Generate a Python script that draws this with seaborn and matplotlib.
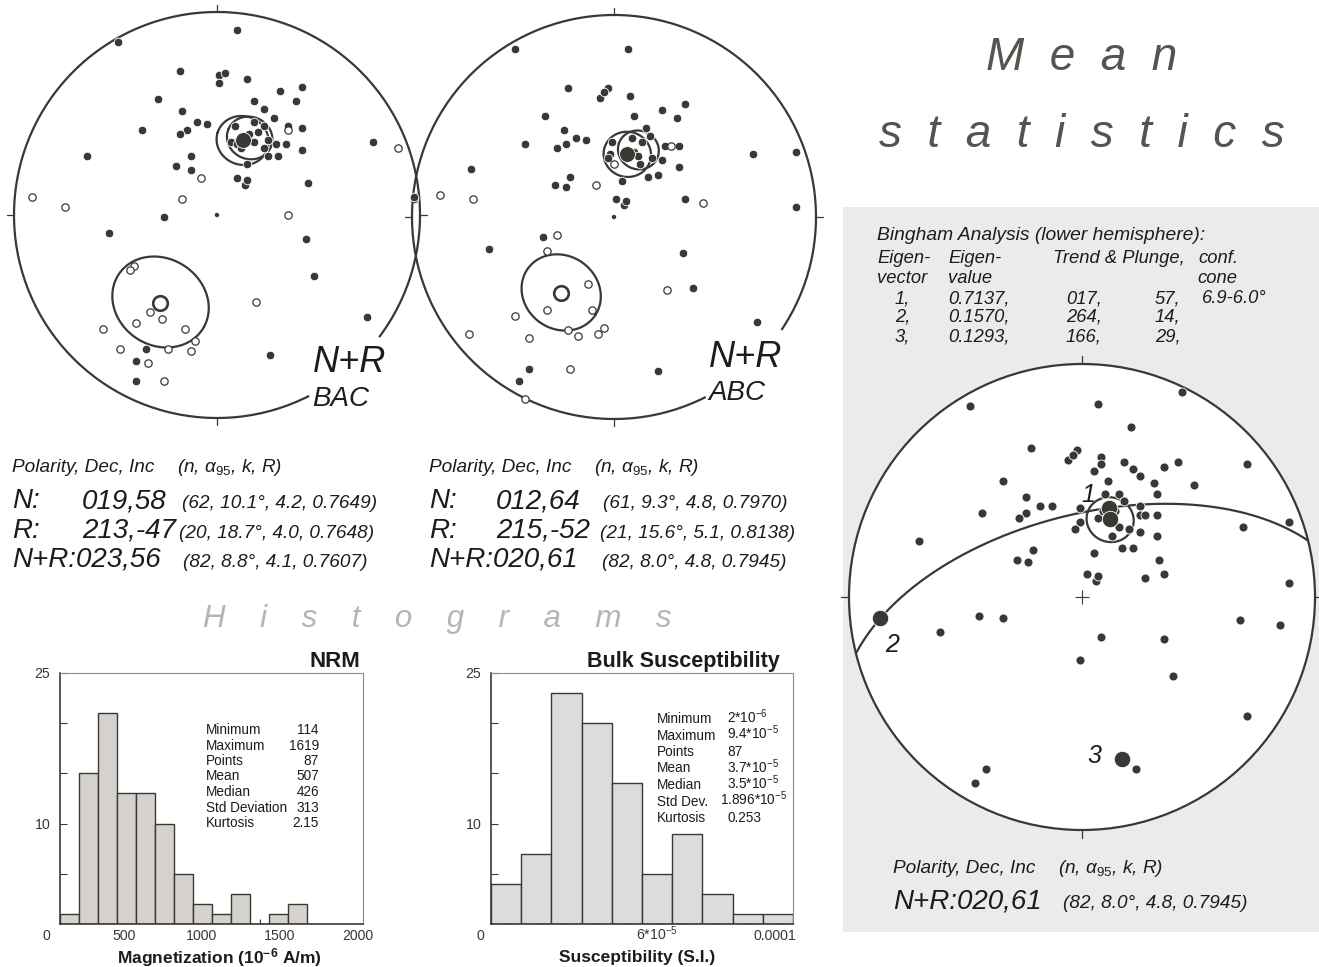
import numpy as np
import matplotlib
matplotlib.use("Agg")
import matplotlib.pyplot as plt
import seaborn as sns
from matplotlib.patches import Arc, Circle, Rectangle

# --- Data ---
# Stereonet points: equal-area net coordinates (east, north), net radius = 100
bac_normal_e = [-49, 10, -18, 1, 4, 1, 15, -29, -17, 18, 31, 42, 39, 23, 28, -37, -15, -18, -10, -5,
                9, 18, 23, 20, 35, 42, 7, 25, 29, 34, 23, 25, 30, 42, 15, -13, -20, -13, -64, 10,
                14, 15, 45, 77, 97, -26, -53, 44, 48, 74, 26, -35, -40, -40, 14, 16, 10, 12, 18]
bac_normal_n = [85, 91, 71, 69, 70, 65, 67, 57, 51, 56, 61, 63, 56, 52, 48, 42, 42, 40, 46, 45,
                44, 46, 44, 41, 44, 43, 36, 37, 35, 35, 33, 29, 29, 32, 25, 29, 24, 22, 29, 18,
                15, 17, 16, 36, 8, -1, -9, -12, -30, -50, -69, -66, -72, -82, 38, 40, 35, 33, 36]
bac_reverse_e = [89, -91, -75, -8, -17, 35, 19, -41, -43, -33, -27, -40, -56, -16, -11, -13, -24,
                 -48, -34, -26, 35]
bac_reverse_n = [33, 9, 4, 18, 8, 0, -43, -25, -27, -48, -51, -53, -56, -56, -62, -67, -66,
                 -66, -73, -82, 42]

abc_normal_e = [-49, 7, -23, -7, -3, -5, 8, -34, 10, 24, 31, 35, -25, -24, -28, -19, -14, -44, -71, -99,
                -22, -29, -24, 1, 5, 6, 4, 16, 18, 9, 14, -1, -2, -3, 25, 32, 24, 19, 32, 13,
                17, 22, 35, 69, 90, 90, -35, -62, 34, 39, 71, 22, -42, -47, 10, 12, 5]
abc_normal_n = [83, 83, 64, 59, 64, 62, 60, 50, 50, 53, 49, 56, 43, 36, 34, 39, 38, 36, 24, 10,
                20, 16, 15, 9, 6, 8, 18, 44, 40, 39, 37, 37, 31, 29, 35, 35, 28, 29, 25, 26,
                20, 21, 9, 31, 32, 5, -10, -16, -18, -35, -52, -76, -75, -81, 32, 30, 31]
abc_reverse_e = [-86, -70, -9, 0, 44, -28, -33, -13, 26, -33, -11, -49, -72, -42, -23, -18, -8,
                 -5, -22, -44, 28]
abc_reverse_n = [11, 9, 16, 26, 7, -9, -17, -33, -36, -46, -46, -49, -58, -60, -56, -59, -58,
                 -55, -75, -90, 35]

bingham_e = [-48, 7, 43, 21, -22, -2, -6, -4, 8, 8, 5, 18, 22, 25, 35, 41, 71, -34, 11, 31,
             48, 32, -24, -18, -13, -43, -24, -27, 10, 16, 18, 25, -1, 7, 14, 25, 27, 32, -1, -3,
             16, 20, 25, 32, 13, 17, 22, 5, 33, -21, -28, -23, -70, 2, 6, 7, 27, 35, 69, 89,
             89, -44, -34, -61, 8, 35, 68, 85, -1, 39, 71, -41, -46, 23, 9, 12]
bingham_n = [82, 83, 88, 73, 64, 63, 59, 61, 60, 57, 54, 58, 55, 52, 56, 58, 57, 50, 50, 49,
             48, 44, 43, 39, 39, 36, 36, 34, 44, 44, 41, 39, 38, 34, 37, 35, 35, 35, 32, 29,
             30, 29, 28, 26, 26, 21, 21, 19, 16, 20, 16, 15, 24, 10, 7, 9, 8, 10, 30, 32,
             6, -8, -9, -15, -17, -18, -10, -12, -27, -34, -51, -74, -80, -74, 37, 40]

# Mean directions (Dec, Inc, n, a95, k, R)
polarity = ["N", "R", "N+R"]
bac_dec = [19, 213, 23]
bac_inc = [58, -47, 56]
bac_n = [62, 20, 82]
bac_a95 = [10.1, 18.7, 8.8]
bac_k = [4.2, 4.0, 4.1]
bac_r = [0.7649, 0.7648, 0.7607]

abc_dec = [12, 215, 20]
abc_inc = [64, -52, 61]
abc_n = [61, 21, 82]
abc_a95 = [9.3, 15.6, 8.0]
abc_k = [4.8, 5.1, 4.8]
abc_r = [0.7970, 0.8138, 0.7945]

# Bingham analysis
eig_vector = [1, 2, 3]
eig_value = [0.7137, 0.1570, 0.1293]
eig_trend = [17, 264, 166]
eig_plunge = [57, 14, 29]
eig_cone = "6.9-6.0°"

# Histograms
nrm_counts = [1, 15, 21, 13, 13, 10, 5, 2, 1, 3, 0, 1, 2]
nrm_first_edge, nrm_bin_width = 90, 122
nrm_xticks = [0, 500, 1000, 1500, 2000]
nrm_xticklabels = ["0", "500", "1000", "1500", "2000"]
nrm_stat_names = ["Minimum", "Maximum", "Points", "Mean", "Median", "Std Deviation", "Kurtosis"]
nrm_stat_values = ["114", "1619", "87", "507", "426", "313", "2.15"]

susc_counts = [4, 7, 23, 20, 14, 5, 9, 3, 1, 1]
susc_first_edge, susc_bin_width = 3.7e-6, 1.024e-5
susc_xticks = [0, 6e-5, 1e-4]
susc_xticklabels = ["0", r"6*10$^{-5}$", "0.0001"]
susc_stat_names = ["Minimum", "Maximum", "Points", "Mean", "Median", "Std Dev.", "Kurtosis"]
susc_stat_values = [r"2*10$^{-6}$", r"9.4*10$^{-5}$", "87", r"3.7*10$^{-5}$", r"3.5*10$^{-5}$",
                    r"1.896*10$^{-5}$", "0.253"]

# --- Style ---
sns.set_theme(style="white")
plt.rcParams["font.family"] = ["Liberation Sans", "DejaVu Sans"]
plt.rcParams["mathtext.fontset"] = "custom"
plt.rcParams["mathtext.rm"] = "Liberation Sans"
plt.rcParams["mathtext.it"] = "Liberation Sans:italic"
plt.rcParams["mathtext.bf"] = "Liberation Sans:bold"

DARK = "#383834"
TEXT = "#1c1c1c"
W, H = 1319, 967
fig = plt.figure(figsize=(W / 100, H / 100), dpi=100)


def ftxt(x, y, s, **kw):
    kw.setdefault("color", TEXT)
    fig.text(x / W, 1 - y / H, s, va="baseline", **kw)


def equal_area(dec, inc):
    dec = np.radians(np.asarray(dec, dtype=float))
    colat = np.radians(90 - np.abs(np.asarray(inc, dtype=float)))
    r = 100 * np.sqrt(2) * np.sin(colat / 2)
    return r * np.sin(dec), r * np.cos(dec)


def dir_vec(dec, inc):
    d, i = np.radians(dec), np.radians(inc)
    return np.array([np.cos(i) * np.cos(d), np.cos(i) * np.sin(d), np.sin(i)])


def project(v):
    inc = np.degrees(np.arcsin(np.clip(v[2], -1, 1)))
    dec = np.degrees(np.arctan2(v[1], v[0]))
    return equal_area(dec, inc)


def cone(dec, inc, a95):
    m = dir_vec(dec, inc)
    u = np.cross(m, [0, 0, 1.0])
    u /= np.linalg.norm(u)
    w = np.cross(m, u)
    t = np.linspace(0, 2 * np.pi, 240)
    a = np.radians(a95)
    v = np.cos(a) * m[:, None] + np.sin(a) * (np.cos(t) * u[:, None] + np.sin(t) * w[:, None])
    return project(v)


def great_circle(dec, inc):
    p = dir_vec(dec, inc)
    u = np.cross(p, [0, 0, 1.0])
    u /= np.linalg.norm(u)
    w = np.cross(p, u)
    if w[2] < 0:
        w = -w
    t = np.linspace(0, np.pi, 240)
    return project(np.cos(t) * u[:, None] + np.sin(t) * w[:, None])


def net_axes(cx, cy, r, gap=None, fill=False):
    half = 1.05 * r
    ax = fig.add_axes([(cx - half) / W, (H - cy - half) / H, 2 * half / W, 2 * half / H])
    ax.set_xlim(-105, 105)
    ax.set_ylim(-105, 105)
    ax.set_aspect("equal")
    ax.axis("off")
    if fill:
        ax.add_patch(Circle((0, 0), 100, facecolor="white", edgecolor="none", zorder=0))
    if gap is None:
        ax.add_patch(Circle((0, 0), 100, facecolor="none", edgecolor=DARK, lw=1.6, zorder=2))
    else:
        ax.add_patch(Arc((0, 0), 200, 200, theta1=gap[1], theta2=gap[0] + 360,
                         color=DARK, lw=1.6, zorder=2))
    for ang in np.radians([0, 90, 180, 270]):
        ax.plot([100 * np.cos(ang), 103.5 * np.cos(ang)],
                [100 * np.sin(ang), 103.5 * np.sin(ang)], color=DARK, lw=0.9)
    return ax


def plot_points(ax, xs, ys, filled=True, s=38):
    if filled:
        sns.scatterplot(x=xs, y=ys, ax=ax, s=s, color=DARK, edgecolor="white",
                        linewidth=0.6, zorder=4)
    else:
        sns.scatterplot(x=xs, y=ys, ax=ax, s=s, color="white", edgecolor=DARK,
                        linewidth=0.9, zorder=4)


def paleo_net(ax, ne, nn, re, rn, dec, inc, a95):
    plot_points(ax, ne, nn, True)
    plot_points(ax, re, rn, False, s=28)
    for d, i, a in zip(dec, inc, a95):
        cx, cy = cone(d, i, a)
        ax.plot(cx, cy, color=DARK, lw=1.6, zorder=3)
    mx, my = equal_area(dec[0], inc[0])
    plot_points(ax, [mx], [my], True, s=130)
    mx, my = equal_area(dec[1], inc[1])
    sns.scatterplot(x=[mx], y=[my], ax=ax, s=110, color="white", edgecolor=DARK,
                    linewidth=1.9, zorder=5)
    sns.scatterplot(x=[0], y=[0], ax=ax, s=10, color=DARK, edgecolor="none", zorder=4)


# --- Gray "Mean statistics" panel ---
fig.add_artist(Rectangle((843 / W, (H - 932) / H), (W - 843) / W, (932 - 207) / H,
                         transform=fig.transFigure, facecolor="#ebebed",
                         edgecolor="none", zorder=-5))

# --- Stereonets ---
ax1 = net_axes(217, 215, 203, gap=(-63, -37))
paleo_net(ax1, bac_normal_e, bac_normal_n, bac_reverse_e, bac_reverse_n, bac_dec, bac_inc, bac_a95)
ax2 = net_axes(614, 217, 202, gap=(-63, -34))
paleo_net(ax2, abc_normal_e, abc_normal_n, abc_reverse_e, abc_reverse_n, abc_dec, abc_inc, abc_a95)

ax3 = net_axes(1082, 597, 233, fill=True)
plot_points(ax3, bingham_e, bingham_n, True, s=42)
gx, gy = great_circle(eig_trend[2], eig_plunge[2])
ax3.plot(gx, gy, color=DARK, lw=1.6, zorder=3)
cx, cy = cone(abc_dec[2], abc_inc[2], abc_a95[2])
ax3.plot(cx, cy, color=DARK, lw=1.6, zorder=3)
ex, ey = equal_area(eig_trend, eig_plunge)
plot_points(ax3, ex, ey, True, s=140)
mx, my = equal_area(abc_dec[2], abc_inc[2])
plot_points(ax3, [mx], [my], True, s=140)
sns.scatterplot(x=[0], y=[0], ax=ax3, marker="+", s=110, color=DARK, linewidth=0.8, zorder=4)

# net annotations
ftxt(313, 372, "N+R", fontsize=26, style="italic")
ftxt(312, 406, "BAC", fontsize=20, style="italic")
ftxt(709, 367, "N+R", fontsize=26, style="italic")
ftxt(708, 400, "ABC", fontsize=20, style="italic")
for lbl, (x, y) in zip(eig_vector, [(1081, 502), (885, 652), (1087, 763)]):
    ftxt(x, y, str(lbl), fontsize=18, style="italic")


# --- Mean text blocks ---
def mean_block(x0, xnum, xpar, y0, dec, inc, n, a95, k, rr):
    ftxt(x0, y0, "Polarity, Dec, Inc", fontsize=13.7, style="italic")
    ftxt(xpar[3], y0, r"(n, $\alpha_{95}$, k, R)", fontsize=13.7, style="italic")
    for j in range(3):
        y = y0 + 36 + 29.5 * j
        if polarity[j] == "N+R":
            ftxt(x0, y, f"N+R:{dec[j]:03d},{inc[j]}", fontsize=20, style="italic")
        else:
            ftxt(x0, y, f"{polarity[j]}:", fontsize=20, style="italic")
            ftxt(xnum, y, f"{dec[j]:03d},{inc[j]}", fontsize=20, style="italic")
        ftxt(xpar[j], y, f"({n[j]}, {a95[j]:.1f}°, {k[j]:.1f}, {rr[j]:.4f})",
             fontsize=13.7, style="italic")


mean_block(12, 82, [182, 179, 183, 177], 472, bac_dec, bac_inc, bac_n, bac_a95, bac_k, bac_r)
mean_block(429, 496, [603, 600, 602, 594], 472, abc_dec, abc_inc, abc_n, abc_a95, abc_k, abc_r)

ftxt(893, 873, "Polarity, Dec, Inc", fontsize=13.7, style="italic")
ftxt(1058, 873, r"(n, $\alpha_{95}$, k, R)", fontsize=13.7, style="italic")
ftxt(893, 908, f"N+R:{abc_dec[2]:03d},{abc_inc[2]}", fontsize=20, style="italic")
ftxt(1063, 908, f"({abc_n[2]}, {abc_a95[2]:.1f}°, {abc_k[2]:.1f}, {abc_r[2]:.4f})",
     fontsize=13.7, style="italic")

# Bingham table
bkw = dict(fontsize=13.2, style="italic")
ftxt(877, 240, "Bingham Analysis (lower hemisphere):", fontsize=13.9, style="italic")
ftxt(877, 263, "Eigen-", **bkw)
ftxt(948, 263, "Eigen-", **bkw)
ftxt(1053, 263, "Trend & Plunge,", **bkw)
ftxt(1198, 263, "conf.", **bkw)
ftxt(877, 283, "vector", **bkw)
ftxt(948, 283, "value", **bkw)
ftxt(1197, 283, "cone", **bkw)
for j in range(3):
    y = 303 + 19 * j
    ftxt(895, y, f"{eig_vector[j]},", **bkw)
    ftxt(948, y, f"{eig_value[j]:.4f},", **bkw)
    ftxt(1066, y, f"{eig_trend[j]:03d},", **bkw)
    ftxt(1155, y, f"{eig_plunge[j]},", **bkw)
ftxt(1202, 303, eig_cone, **bkw)

# --- Big headings ---
ftxt(1082, 70, "M  e  a  n", fontsize=33, style="italic", color="#555550", ha="center")
ftxt(1082, 147, "s  t  a  t  i  s  t  i  c  s", fontsize=33, style="italic",
     color="#555550", ha="center")
ftxt(437, 627, "H    i    s    t    o    g    r    a    m    s", fontsize=22.5,
     style="italic", color="#b5b5b5", ha="center")


# --- Histograms ---
def histogram(left, right, counts, first_edge, width, xlim, color, xticks, xticklabels):
    ax = fig.add_axes([left / W, (H - 924) / H, (right - left) / W, (924 - 673) / H])
    edges = first_edge + width * np.arange(len(counts) + 1)
    centers = edges[:-1] + width / 2
    # one sample per counted specimen, placed at its bin centre
    samples = np.repeat(centers, counts)
    sns.histplot(x=samples, bins=edges, color=color, edgecolor=DARK,
                 linewidth=1.0, alpha=1, ax=ax)
    ax.set_xlim(*xlim)
    ax.set_ylim(0, 25)
    ax.set_xlabel("")
    ax.set_ylabel("")
    ax.set_yticks([5, 10, 15, 20, 25])
    ax.set_yticklabels(["", "10", "", "", "25"])
    ax.set_xticks([])
    ax.set_xticks(centers, minor=True)
    ax.tick_params(axis="y", direction="in", length=5, width=0.8, pad=7,
                   labelsize=10.2, colors=DARK, left=True)
    ax.tick_params(axis="x", which="minor", direction="in", length=3.5, width=0.8,
                   colors=DARK, bottom=True)
    # x labels on a common baseline, 16 px under the axis
    for xv, lbl in zip(xticks, xticklabels):
        ax.text(xv, -16 / 251, lbl, transform=ax.get_xaxis_transform(), ha="center",
                va="baseline", fontsize=10.2, color=DARK, clip_on=False)
    for side in ["top", "right"]:
        ax.spines[side].set_color("#8c8c8c")
        ax.spines[side].set_linewidth(0.8)
    for side in ["left", "bottom"]:
        ax.spines[side].set_color(DARK)
        ax.spines[side].set_linewidth(1.2)
    return ax


histogram(60, 363, nrm_counts, nrm_first_edge, nrm_bin_width, (90, 2032), "#d5d2ce",
          nrm_xticks, nrm_xticklabels)
histogram(491, 793, susc_counts, susc_first_edge, susc_bin_width, (3.7e-6, 1.061e-4), "#dcdcdc",
          susc_xticks, susc_xticklabels)

ftxt(360, 667, "NRM", fontsize=16, weight="bold", ha="right")
ftxt(780, 667, "Bulk Susceptibility", fontsize=15.5, weight="bold", ha="right")
ftxt(219, 963, r"Magnetization ($\mathbf{10^{-6}}$ A/m)", fontsize=12.5, weight="bold", ha="center")
ftxt(637, 962, "Susceptibility (S.I.)", fontsize=12.5, weight="bold", ha="center")

for j, (name, val) in enumerate(zip(nrm_stat_names, nrm_stat_values)):
    ftxt(206, 734 + 15.5 * j, name, fontsize=9.8)
    ftxt(319, 734 + 15.5 * j, val, fontsize=9.8, ha="right")
for j, (name, val) in enumerate(zip(susc_stat_names, susc_stat_values)):
    ftxt(657, 723 + 16.5 * j, name, fontsize=9.8)
    ftxt(720 if j == 5 else 727, 723 + 16.5 * j, val, fontsize=9.8)

fig.savefig("out.png", dpi=100)
